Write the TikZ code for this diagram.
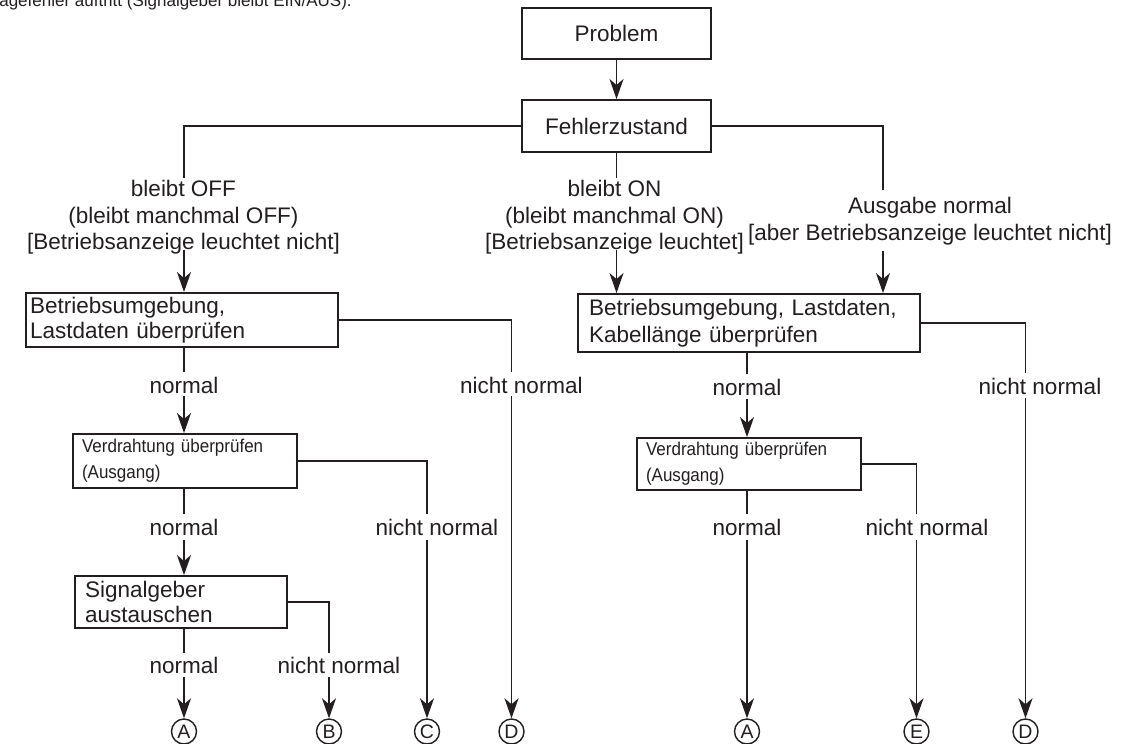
\documentclass[tikz,border=0pt]{standalone}
\usepackage{fontspec}
\setmainfont{Liberation Sans}
\newfontfamily\narrowsans[FakeStretch=0.92]{Liberation Sans}
\usetikzlibrary{arrows.meta}
\definecolor{ink}{RGB}{35,31,32}
\begin{document}
\begin{tikzpicture}[x=1pt,y=-1pt,
  every node/.style={text=ink},
  box/.style={draw=ink, line width=1.9pt, inner sep=0pt, font=\fontsize{22.5}{25.5}\selectfont},
  lbox/.style={box, align=left},
  sbox/.style={box, align=left, font=\narrowsans\fontsize{18.5}{26}\selectfont},
  conn/.style={draw=ink, line width=1.7pt},
  arr/.style={conn, -{Stealth[length=20pt,width=14pt,inset=6pt]}},
  txt/.style={font=\fontsize{22.5}{25.5}\selectfont, inner sep=0pt},
  lab/.style={txt, align=center},
  circ/.style={circle, draw=ink, line width=1.4pt, minimum size=25pt, inner sep=0pt, font=\fontsize{19.5}{19.5}\selectfont},
]
\useasboundingbox (0,0) rectangle (1122,744);
\fill[white] (0,0) rectangle (1122,744);

% top (cut) text
\node[inner sep=0pt, font=\fontsize{17}{18}\selectfont, anchor=base east] (toptext) at (352,6.5) {Wenn ein Übertragefehler auftritt (Signalgeber bleibt EIN/AUS).};

% boxes
\node[box, minimum width=189pt, minimum height=51pt] (prob) at (616.5,33.5) {Problem};
\node[box, minimum width=189pt, minimum height=52pt] (fz) at (616.5,126) {Fehlerzustand};
\node[lbox, text width=304pt, inner xsep=4pt, minimum height=54pt] (l1) at (182,320) {Betriebsumgebung,\\Lastdaten überprüfen};
\node[lbox, text width=320pt, inner xsep=11pt, minimum height=58pt, font=\fontsize{22.5}{27}\selectfont] (r1) at (749,323) {Betriebsumgebung, Lastdaten,\\Kabellänge überprüfen};
\node[sbox, text width=206pt, inner xsep=9pt, minimum height=54pt] (l2) at (185,461) {Verdrahtung überprüfen\\(Ausgang)};
\node[sbox, text width=206pt, inner xsep=9pt, minimum height=52pt] (r2) at (749,464) {Verdrahtung überprüfen\\(Ausgang)};
\node[lbox, text width=192pt, inner xsep=10pt, minimum height=52pt, font=\fontsize{22.5}{24.5}\selectfont] (l3) at (181,602) {Signalgeber\\austauschen};

% end markers
\node[circ] (ca1) at (184,731.5) {A};
\node[circ] (cb) at (329,731.5) {B};
\node[circ] (cc) at (427,731.5) {C};
\node[circ] (cd1) at (511.5,731.5) {D};
\node[circ] (ca2) at (747,731.5) {A};
\node[circ] (ce) at (916.5,731.5) {E};
\node[circ] (cd2) at (1025.5,731.5) {D};

% branch labels
\node[lab, font=\fontsize{22.5}{26.5}\selectfont] (loff) at (183.5,217.5) {bleibt OFF\\(bleibt manchmal OFF)\\{}[Betriebsanzeige leuchtet nicht]};
\node[lab, font=\fontsize{22.5}{26.5}\selectfont] (lon) at (614.5,217.5) {bleibt ON\\(bleibt manchmal ON)\\{}[Betriebsanzeige leuchtet]};
\node[lab, font=\fontsize{22.5}{27.5}\selectfont] (lnorm) at (930,221) {Ausgabe normal\\{}[aber Betriebsanzeige leuchtet nicht]};

\node[txt] (n1) at (184,385) {normal};
\node[txt] (nn1) at (521.5,385) {nicht normal};
\node[txt] (n2) at (747,387) {normal};
\node[txt] (nn2) at (1040,386) {nicht normal};
\node[txt] (n3) at (184,527) {normal};
\node[txt] (nn3) at (437,527) {nicht normal};
\node[txt] (n4) at (747,527) {normal};
\node[txt] (nn4) at (927,527) {nicht normal};
\node[txt] (n5) at (184,665) {normal};
\node[txt] (nn5) at (339,665) {nicht normal};

% connectors
\draw[arr] (prob) -- (fz);

\coordinate (t1) at (184,178);
\coordinate (t1b) at (184,250);
\draw[conn] (fz.west) -| (t1);
\draw[arr] (t1b) -- (t1b |- l1.north);

\coordinate (t2) at (616.5,178);
\coordinate (t2b) at (616.5,250);
\draw[conn] (fz.south) -- (t2);
\draw[arr] (t2b) -- (t2b |- r1.north);

\coordinate (t3) at (883,190);
\coordinate (t3b) at (883,251);
\draw[conn] (fz.east) -| (t3);
\draw[arr] (t3b) -- (t3b |- r1.north);

% left column
\coordinate (a1) at (184,372);
\coordinate (a1b) at (184,396);
\draw[conn] (a1 |- l1.south) -- (a1);
\draw[arr] (a1b) -- (a1b |- l2.north);

\coordinate (d1) at (511.5,372);
\coordinate (d1b) at (511.5,396);
\draw[conn] (l1.east) -| (d1);
\draw[arr] (d1b) -- (cd1.north);

\coordinate (a2) at (184,514);
\coordinate (a2b) at (184,540);
\draw[conn] (a2 |- l2.south) -- (a2);
\draw[arr] (a2b) -- (a2b |- l3.north);

\coordinate (c1) at (427,514);
\coordinate (c1b) at (427,540);
\draw[conn] (l2.east) -| (c1);
\draw[arr] (c1b) -- (cc.north);

\coordinate (a3) at (184,653);
\coordinate (a3b) at (184,677);
\draw[conn] (a3 |- l3.south) -- (a3);
\draw[arr] (a3b) -- (ca1.north);

\coordinate (b1) at (329,653);
\coordinate (b1b) at (329,677);
\draw[conn] (l3.east) -| (b1);
\draw[arr] (b1b) -- (cb.north);

% right column
\coordinate (r1a) at (747,374);
\coordinate (r1ab) at (747,399);
\draw[conn] (r1a |- r1.south) -- (r1a);
\draw[arr] (r1ab) -- (r1ab |- r2.north);

\coordinate (d2) at (1025.5,373);
\coordinate (d2b) at (1025.5,398);
\draw[conn] (r1.east) -| (d2);
\draw[arr] (d2b) -- (cd2.north);

\coordinate (r2a) at (747,514);
\coordinate (r2ab) at (747,540);
\draw[conn] (r2a |- r2.south) -- (r2a);
\draw[arr] (r2ab) -- (ca2.north);

\coordinate (e1) at (916.5,514);
\coordinate (e1b) at (916.5,540);
\draw[conn] (r2.east) -| (e1);
\draw[arr] (e1b) -- (ce.north);
\end{tikzpicture}
\end{document}
